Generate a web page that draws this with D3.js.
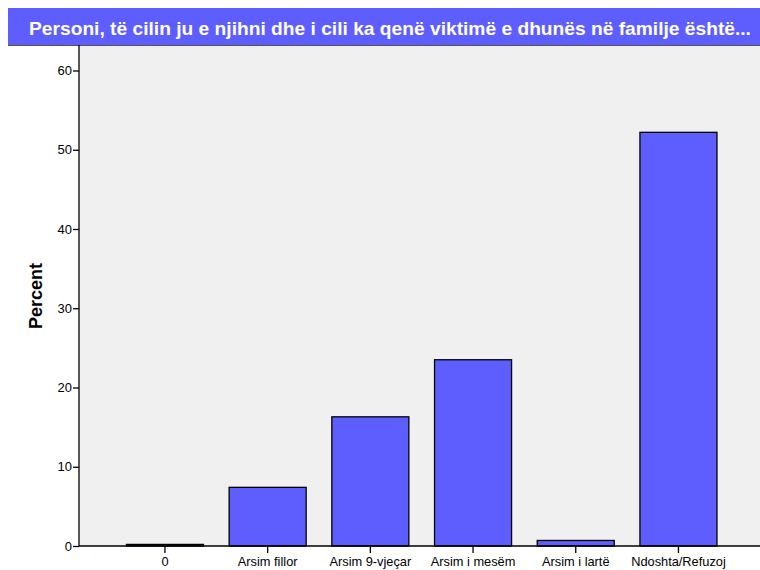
<!DOCTYPE html>
<html>
<head>
<meta charset="utf-8">
<script src="https://cdn.jsdelivr.net/npm/d3@7"></script>
<style>
  body { margin: 0; background: #fff; }
  text { font-family: "Liberation Sans", Arial, sans-serif; }
</style>
</head>
<body>
<div id="chart"></div>
<script>
var categories = ["0", "Arsim fillor", "Arsim 9-vjeçar", "Arsim i mesëm", "Arsim i lartë", "Ndoshta/Refuzoj"];
var percents = [0.2, 7.4, 16.3, 23.5, 0.7, 52.2];
var yTicks = [0, 10, 20, 30, 40, 50, 60];
var title = "Personi, të cilin ju e njihni dhe i cili ka qenë viktimë e dhunës në familje është...";

var width = 760, height = 570;
var barColor = "#5e5eff";
var plotBg = "#f0f0f0";

var svg = d3.select("#chart").append("svg")
            .attr("width", width)
            .attr("height", height);

var plotLeft = 79, plotRight = 760, plotTop = 45, plotBottom = 546;

// title bar
svg.append("rect")
   .attr("x", 8).attr("y", 8)
   .attr("width", width - 8).attr("height", plotTop - 8)
   .attr("fill", barColor);
svg.append("text")
   .attr("x", 390).attr("y", 35)
   .attr("text-anchor", "middle")
   .attr("fill", "#fff")
   .attr("font-size", 19.2)
   .attr("font-weight", "bold")
   .text(title);

// plot background
svg.append("rect")
   .attr("x", plotLeft).attr("y", plotTop)
   .attr("width", plotRight - plotLeft).attr("height", plotBottom - plotTop)
   .attr("fill", plotBg);
svg.append("line")
   .attr("x1", 8).attr("x2", width)
   .attr("y1", plotTop + 0.5).attr("y2", plotTop + 0.5)
   .attr("stroke", "#555").attr("stroke-width", 1);

var x = d3.scaleBand()
          .domain(categories)
          .range([113.6, 729.8])
          .paddingInner(0.25)
          .paddingOuter(0.125);

var y = d3.scaleLinear()
          .domain([0, 60])
          .range([plotBottom, 70.5]);

// bars
svg.append("g")
   .selectAll("rect")
   .data(categories)
   .join("rect")
   .attr("x", d => x(d))
   .attr("width", x.bandwidth())
   .attr("y", (d, i) => y(percents[i]))
   .attr("height", (d, i) => plotBottom - y(percents[i]))
   .attr("fill", barColor)
   .attr("stroke", "#000")
   .attr("stroke-width", 1.3);

// y axis
var yAxis = svg.append("g")
   .attr("transform", "translate(" + plotLeft + ",0)")
   .call(d3.axisLeft(y).tickValues(yTicks).tickSize(6).tickSizeOuter(0));
yAxis.select(".domain").remove();
svg.append("line")
   .attr("x1", plotLeft).attr("x2", plotLeft)
   .attr("y1", plotTop).attr("y2", plotBottom)
   .attr("stroke", "#000").attr("stroke-width", 1.3);
yAxis.selectAll(".tick line").attr("stroke", "#000").attr("stroke-width", 1.3);
yAxis.selectAll(".tick text")
     .attr("font-family", "Liberation Sans, Arial, sans-serif")
     .attr("font-size", 13).attr("fill", "#000").attr("x", -7);

// x axis
var xAxis = svg.append("g")
   .attr("transform", "translate(0," + plotBottom + ")")
   .call(d3.axisBottom(x).tickSize(7).tickSizeOuter(0));
xAxis.select(".domain").remove();
svg.append("line")
   .attr("x1", plotLeft).attr("x2", plotRight)
   .attr("y1", plotBottom).attr("y2", plotBottom)
   .attr("stroke", "#000").attr("stroke-width", 1.5);
xAxis.selectAll(".tick line").attr("stroke", "#000").attr("stroke-width", 1.3);
xAxis.selectAll(".tick text")
     .attr("font-family", "Liberation Sans, Arial, sans-serif")
     .attr("font-size", 12.8).attr("fill", "#000").attr("y", 11);

// y label
svg.append("text")
   .attr("transform", "translate(42,296) rotate(-90)")
   .attr("text-anchor", "middle")
   .attr("font-size", 18)
   .attr("font-weight", "bold")
   .text("Percent");
</script>
</body>
</html>
